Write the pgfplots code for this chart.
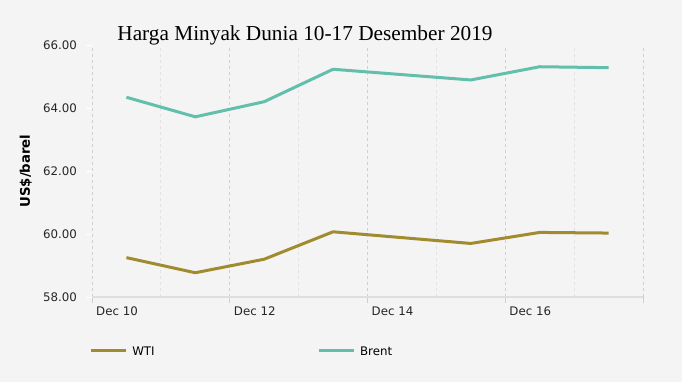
\documentclass[border=0pt]{standalone}
\usepackage{pgfplots}
\pgfplotsset{compat=1.18}
\usepackage{fontspec}
\setmainfont{DejaVu Sans}
\newfontfamily\titlefont{Liberation Serif}
\definecolor{bg}{HTML}{F4F4F4}
\definecolor{wti}{HTML}{A08B2F}
\definecolor{brent}{HTML}{62BFAB}
\definecolor{majgrid}{HTML}{CFCFCF}
\definecolor{mingrid}{HTML}{E2E2E2}
\definecolor{baseline}{HTML}{DEDEDE}
\pgfplotstableread{
x     wti    brent
10.5  59.25  64.34
11.5  58.77  63.72
12.5  59.20  64.20
13.5  60.07  65.23
15.5  59.70  64.89
16.5  60.05  65.31
17.5  60.03  65.28
}\oildata
\begin{document}
\begin{tikzpicture}
\path[use as bounding box, fill=bg] (0bp,0bp) rectangle (682bp,382bp);
\begin{axis}[
  at={(92bp,85bp)}, anchor=south west,
  scale only axis, width=551bp, height=252bp,
  xmin=10, xmax=18, ymin=58, ymax=66,
  xtick={10,12,14,16,18},
  xticklabels={Dec 10,Dec 12,Dec 14,Dec 16,{}},
  minor xtick={11,13,15,17},
  ytick={58,60,62,64,66},
  yticklabel={\pgfmathprintnumber[fixed,fixed zerofill,precision=2]{\tick}},
  /pgf/number format/assume math mode=true,
  xmajorgrids, xminorgrids,
  major grid style={dashed, color=majgrid, line width=0.8bp, dash pattern=on 3bp off 3bp},
  minor grid style={dashed, color=mingrid, line width=0.8bp, dash pattern=on 3bp off 3bp},
  axis x line*=bottom, axis y line*=left,
  x axis line style={color=baseline, line width=2bp, -},
  y axis line style={draw=none},
  tick align=outside,
  major tick length=6bp, minor tick length=0bp,
  xtick style={color=majgrid, line width=0.8bp},
  ytick style={color=white, line width=0.8bp},
  tick label style={font=\fontsize{11.8bp}{14bp}\selectfont, color=black!85},
  xticklabel style={anchor=north west, inner sep=0pt, xshift=4bp, yshift=-4bp},
  yticklabel style={anchor=east, inner sep=0pt, xshift=-9bp},
  ylabel={US\$/barel},
  every axis y label/.style={at={(axis description cs:-0.1200,0.5)}, rotate=90, anchor=center,
     font=\fontsize{13.3bp}{15bp}\selectfont\bfseries},
  title={Harga Minyak Dunia 10-17 Desember 2019},
  every axis title/.style={at={(axis description cs:0.3866,1.0159)}, anchor=base,
     font=\titlefont\fontsize{21.3bp}{24bp}\selectfont},
  legend columns=2,
  legend style={at={(axis description cs:-0.004,-0.214)}, anchor=west, draw=none, fill=none,
     inner sep=0pt, outer sep=0pt,
     font=\fontsize{11.8bp}{14bp}\selectfont,
     nodes={inner sep=0pt, text depth=0pt},
     /tikz/every odd column/.append style={column sep=4.5bp},
     /tikz/every even column/.append style={column sep=163bp}},
  legend image code/.code={\draw[#1, line width=3bp] (0bp,0bp) -- (35bp,0bp);},
]
\addplot[color=wti, line width=3bp, line join=round] table[x=x, y=wti] {\oildata};
\addlegendentry{WTI}
\addplot[color=brent, line width=3bp, line join=round] table[x=x, y=brent] {\oildata};
\addlegendentry{Brent}
\end{axis}
\end{tikzpicture}
\end{document}
